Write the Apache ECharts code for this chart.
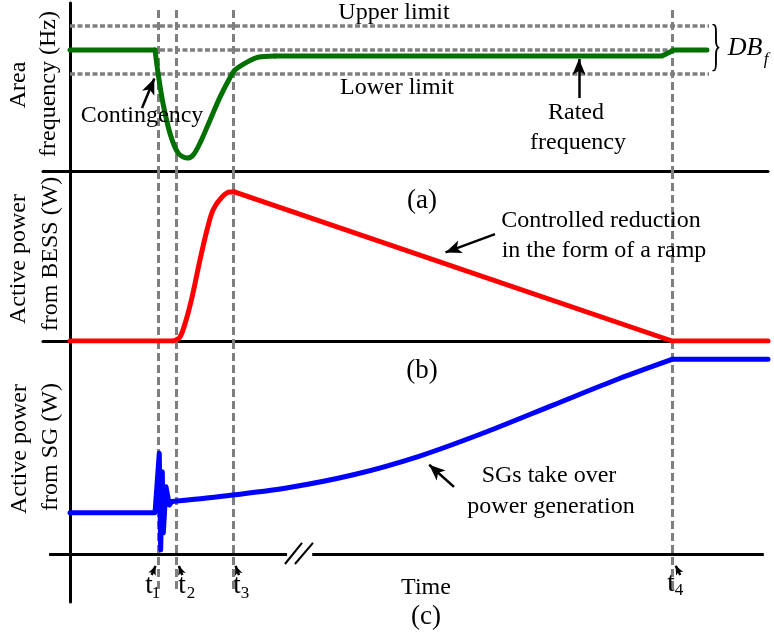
<!DOCTYPE html>
<html>
<head>
<meta charset="utf-8">
<title>Frequency response with BESS support</title>
<script src="https://cdn.jsdelivr.net/npm/echarts@6/dist/echarts.min.js"></script>
<style>
  html, body { margin: 0; padding: 0; background: #fff; }
  #chart { width: 774px; height: 640px; }
</style>
</head>
<body>
<div id="chart"></div>
<script>
// time is in arbitrary units: 0 = vertical axis, 100 = right edge
var freqTime = [0, 12.18, 12.61, 13.32, 14.33, 15.47, 16.76, 17.62, 18.62, 20.06, 21.49, 22.92, 23.64, 25.36, 26.93, 29.37, 84.81, 85.67, 86.53, 91.26]
var freqValue = [50.0, 50.0, 49.81, 49.56, 49.31, 49.15, 49.107, 49.13, 49.23, 49.42, 49.61, 49.77, 49.835, 49.90, 49.94, 49.95, 49.95, 49.975, 50.0, 50.0]

var bessTime = [0, 14.76, 15.76, 16.76, 17.62, 18.62, 19.63, 20.49, 21.78, 22.92, 23.64, 86.25, 100]
var bessValue = [0, 0, 0.024, 0.141, 0.282, 0.476, 0.653, 0.771, 0.847, 0.876, 0.876, 0, 0]

var sgTime = [0, 12.18, 12.79, 12.99, 13.22, 13.37, 13.75, 14.23, 14.57, 21.5, 31.0, 40.6, 50.1, 59.7, 69.2, 78.8, 86.25, 100]
var sgValue = [0.194, 0.194, 0.473, 0.019, 0.386, 0.099, 0.316, 0.230, 0.246, 0.270, 0.31, 0.372, 0.460, 0.574, 0.699, 0.825, 0.914, 0.914]

var eventTimes = [12.61, 15.23, 23.4, 86.25]
var eventNames = ['1', '2', '3', '4']
var freqLimits = [50.2, 50.0, 49.8] // upper, rated, lower
var limitEnd = 91.55

// annotation arrows: [grid, fromT, fromV, toT, toV, big]
var arrowNotes = [
  [0, 10.32, 49.521, 12.08, 49.764, true],
  [0, 72.92, 49.603, 72.92, 49.926, true],
  [1, 60.89, 0.629, 53.80, 0.521, true],
  [2, 55.01, 0.315, 51.46, 0.419, true],
  [2, 11.70, -0.099, 12.25, -0.056, false],
  [2, 16.09, -0.099, 15.60, -0.056, false],
  [2, 24.21, -0.099, 23.72, -0.056, false],
  [2, 87.43, -0.099, 86.78, -0.055, false]
]

var FONT = '"Liberation Serif", "Times New Roman", serif'
var GRAY = '#7f7f7f'

function pairs(xs, ys) {
  return xs.map(function(x, i) { return [x, ys[i]] })
}

function seg(x1, y1, x2, y2) {
  return [{ coord: [x1, y1] }, { coord: [x2, y2] }]
}

function eventLines(top, bottom) {
  return eventTimes.map(function(t) { return seg(t, top, t, bottom) })
}

function frameSeries(idx, lines, style, z) {
  return {
    type: 'line',
    xAxisIndex: idx,
    yAxisIndex: idx,
    data: [],
    silent: true,
    z: z || 1,
    markLine: {
      silent: true,
      z: z || 1,
      symbol: 'none',
      animation: false,
      label: { show: false },
      emphasis: { disabled: true },
      lineStyle: style,
      data: lines
    }
  }
}

function arrowSeries(idx) {
  var lines = arrowNotes.filter(function(a) { return a[0] === idx }).map(function(a) {
    return [
      { coord: [a[1], a[2]] },
      { coord: [a[3], a[4]], symbol: 'arrow', symbolSize: a[5] ? [10, 16] : [6, 9] }
    ]
  })
  return frameSeries(idx, lines, { color: '#000', width: 2.5, type: 'solid' }, 6)
}

// one piece of a curve, from index a to index b (inclusive)
function piece(idx, xs, ys, a, b, smooth, color) {
  return {
    type: 'line',
    xAxisIndex: idx,
    yAxisIndex: idx,
    data: pairs(xs, ys).slice(a, b + 1),
    showSymbol: false,
    symbol: 'none',
    smooth: smooth,
    silent: true,
    z: 3,
    lineStyle: { color: color, width: 5, cap: 'round', join: 'round' }
  }
}

function text(str, x, y, size, extra) {
  var el = {
    type: 'text',
    x: x,
    y: y,
    silent: true,
    z: 10,
    style: {
      text: str,
      font: (size || 24) + 'px ' + FONT,
      fill: '#000',
      align: 'center',
      verticalAlign: 'middle',
      textAlign: 'center',
      textVerticalAlign: 'middle'
    }
  }
  if (extra) {
    for (var k in extra) el[k] = extra[k]
  }
  return el
}

var vDash = { color: GRAY, width: 3, type: [8, 4] }
var hDash = { color: GRAY, width: 3.5, type: [5, 2.5] }
var axisStyle = { color: '#000', width: 3 }

var xAxisBase = function(idx, showLine) {
  return {
    type: 'value',
    gridIndex: idx,
    min: -3.868,
    max: 100,
    axisLine: { show: showLine, onZero: false, lineStyle: axisStyle },
    axisTick: { show: false },
    axisLabel: { show: false },
    splitLine: { show: false }
  }
}

var yAxisBase = function(idx, min, max) {
  return {
    type: 'value',
    gridIndex: idx,
    min: min,
    max: max,
    axisLine: { show: true, onZero: true, lineStyle: axisStyle },
    axisTick: { show: false },
    axisLabel: { show: false },
    splitLine: { show: false }
  }
}

var graphics = [
  text('Upper limit', 394, 13),
  text('Lower limit', 397, 88),
  text('Contingency', 142, 116),
  text('Rated', 576, 113),
  text('frequency', 578, 143),
  text('(a)', 422, 201, 27),
  text('Controlled reduction', 601, 221),
  text('in the form of a ramp', 604, 251),
  text('(b)', 422, 371, 27),
  text('SGs take over', 549, 476),
  text('power generation', 551, 507),
  text('Time', 426, 588),
  text('(c)', 426, 617, 27),
  text('Area', 19, 85, 24, { rotation: Math.PI / 2 }),
  text('frequency (Hz)', 49, 84, 24, { rotation: Math.PI / 2 }),
  text('Active power', 19, 259, 24, { rotation: Math.PI / 2 }),
  text('from BESS (W)', 51, 254, 24, { rotation: Math.PI / 2 }),
  text('Active power', 20, 449, 24, { rotation: Math.PI / 2 }),
  text('from SG (W)', 51, 447, 24, { rotation: Math.PI / 2 }),
  text('}', 716, 49, 56, { scaleX: 0.42 })
]

var dbf = text('DB', 745, 48, 26)
dbf.style.font = 'italic 26px ' + FONT
graphics.push(dbf)
var dbfSub = text('f', 766, 60, 17)
dbfSub.style.font = 'italic 17px ' + FONT
graphics.push(dbfSub)

var tPos = [[149, 156, 586, 594], [182, 191, 586, 594], [237, 245, 586, 594], [671, 679, 584, 591]]
eventNames.forEach(function(n, i) {
  var p = tPos[i]
  graphics.push(text('t', p[0], p[2], 27))
  graphics.push(text(n, p[1], p[3], 17))
})

var GREEN = '#007000'
var RED = '#ff0000'
var BLUE = '#0000ff'

var chart = echarts.init(document.getElementById('chart'))

chart.setOption({
  animation: false,
  backgroundColor: '#fff',
  grid: [
    { left: 43, right: 6, top: 3, height: 168 },
    { left: 43, right: 6, top: 171, height: 170 },
    { left: 43, right: 6, top: 341, height: 261 }
  ],
  xAxis: [xAxisBase(0, true), xAxisBase(1, true), xAxisBase(2, false)],
  yAxis: [yAxisBase(0, 49, 50.388), yAxisBase(1, 0, 1), yAxisBase(2, -0.2254, 1)],
  graphic: graphics,
  series: [
    frameSeries(0, eventLines(50.33, 49), vDash),
    frameSeries(0, freqLimits.map(function(f) { return seg(0, f, limitEnd, f) }), hDash),
    frameSeries(1, eventLines(1, 0), vDash),
    frameSeries(2, eventLines(1, -0.178), vDash),
    // broken time axis of panel (c)
    frameSeries(2, [seg(-3.0, 0, 31.1, 0), seg(34.7, 0, 99.4, 0)], { color: '#000', width: 3, type: 'solid' }, 2),
    frameSeries(2, [seg(30.8, -0.047, 33.24, 0.052), seg(32.23, -0.047, 34.81, 0.052)], { color: '#000', width: 2, type: 'solid' }, 2),
    piece(0, freqTime, freqValue, 0, 1, false, GREEN),
    piece(0, freqTime, freqValue, 1, 15, 0.3, GREEN),
    piece(0, freqTime, freqValue, 15, 19, false, GREEN),
    piece(1, bessTime, bessValue, 0, 1, false, RED),
    piece(1, bessTime, bessValue, 1, 10, 0.3, RED),
    piece(1, bessTime, bessValue, 10, 12, false, RED),
    piece(2, sgTime, sgValue, 0, 8, false, BLUE),
    piece(2, sgTime, sgValue, 8, 16, 0.3, BLUE),
    piece(2, sgTime, sgValue, 16, 17, false, BLUE),
    arrowSeries(0),
    arrowSeries(1),
    arrowSeries(2)
  ]
})
</script>
</body>
</html>
